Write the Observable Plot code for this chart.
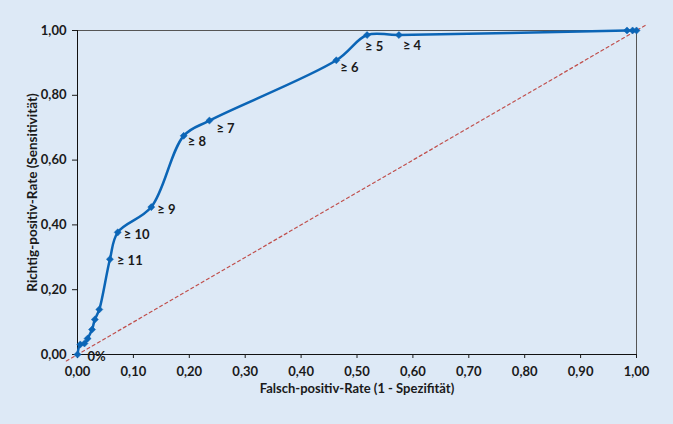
<!DOCTYPE html>
<html><head><meta charset="utf-8">
<script src="https://cdn.jsdelivr.net/npm/d3@7"></script>
<script src="https://cdn.jsdelivr.net/npm/@observablehq/plot@0.6"></script>
<style>
html,body{margin:0;padding:0;background:#dde9f6;}
</style>
</head><body><div id="chart"></div>
<script>
// Data
const fpr = [0, 0.005, 0.0125, 0.018, 0.026, 0.031, 0.039, 0.058, 0.072, 0.132, 0.190, 0.236, 0.463, 0.518, 0.575, 0.983, 0.993, 1.0];
const tpr = [0, 0.031, 0.034, 0.049, 0.077, 0.108, 0.139, 0.294, 0.377, 0.455, 0.675, 0.722, 0.908, 0.986, 0.986, 1.0, 1.0, 1.0];
const pointLabels = ["0%", "", "", "", "", "", "", "≥ 11", "≥ 10", "≥ 9", "≥ 8", "≥ 7", "≥ 6", "≥ 5", "≥ 4", "", "", ""];
const xTicks = [0, 0.1, 0.2, 0.3, 0.4, 0.5, 0.6, 0.7, 0.8, 0.9, 1.0];
const yTicks = [0, 0.2, 0.4, 0.6, 0.8, 1.0];
const diagonal = [-0.02, 1.02];
const xTitle = "Falsch-positiv-Rate (1 - Spezifität)";
const yTitle = "Richtig-positiv-Rate (Sensitivität)";

const data = fpr.map((x, i) => ({x, y: tpr[i], label: pointLabels[i]}));
const diag = diagonal.map(v => ({x: v, y: v}));

// label placement (layout only)
const offsets = {
  "0%": [10, 2], "≥ 11": [7, 2], "≥ 10": [6, 2], "≥ 9": [6, 3],
  "≥ 8": [4, 6], "≥ 7": [7, 8], "≥ 6": [4, 8], "≥ 5": [-2, 12], "≥ 4": [4, 11]
};
const fmt = d => d.toFixed(2).replace(".", ",");
const blue = "#0b65b6";
const ink = "#1a1a1a";
const font = "Lato, 'Open Sans', sans-serif";

const labelMarks = data.filter(d => d.label).map(d => Plot.text([d], {
  x: "x", y: "y", text: "label", textAnchor: "start",
  dx: offsets[d.label][0], dy: offsets[d.label][1],
  fontWeight: "bold", fontSize: 13, fill: ink
}));

const chart = Plot.plot({
  width: 673, height: 424,
  marginLeft: 77, marginRight: 37, marginTop: 30, marginBottom: 70,
  style: {background: "#dde9f6", fontFamily: font, fontSize: "13px", color: ink},
  x: {domain: [0, 1]},
  y: {domain: [0, 1]},
  marks: [
    Plot.frame({stroke: "#555", strokeWidth: 1}),
    Plot.ruleX([0], {stroke: "#111"}),
    Plot.ruleY([0], {stroke: "#111"}),
    Plot.axisX({ticks: xTicks, tickFormat: fmt, tickSize: 4, tickPadding: 8, label: null, fontWeight: "bold", fontSize: 13}),
    Plot.axisY({ticks: yTicks, tickFormat: fmt, tickSize: 5, tickPadding: 6, label: null, fontWeight: "bold", fontSize: 13}),
    Plot.text([xTitle], {frameAnchor: "bottom", textAnchor: "middle", dy: 38, fontWeight: "bold", fontSize: 13, fill: ink}),
    Plot.text([yTitle], {frameAnchor: "left", textAnchor: "middle", dx: -45, rotate: -90, fontWeight: "bold", fontSize: 13.5, fill: ink}),
    Plot.line(diag, {x: "x", y: "y", stroke: "#c0504d", strokeWidth: 1.2, strokeDasharray: "3,3"}),
    Plot.line(data, {x: "x", y: "y", curve: "catmull-rom", stroke: blue, strokeWidth: 2.5}),
    Plot.dot(data, {x: "x", y: "y", symbol: "diamond2", r: 3.2, fill: blue, stroke: blue, strokeWidth: 0.5}),
    ...labelMarks
  ]
});
document.getElementById("chart").appendChild(chart);
</script>
</body></html>
